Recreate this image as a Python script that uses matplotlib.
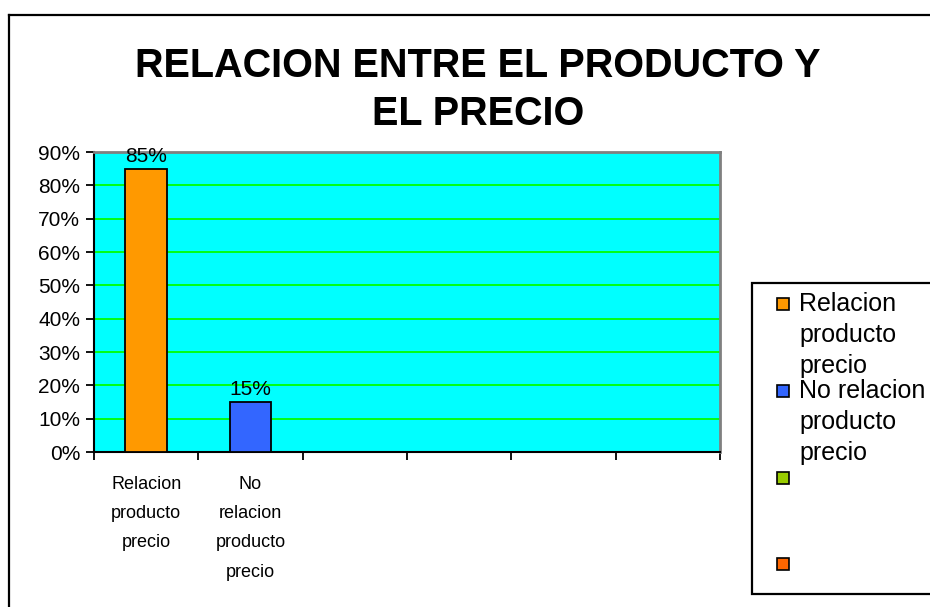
import matplotlib
matplotlib.use("Agg")
import matplotlib.pyplot as plt
from matplotlib.patches import Rectangle
import numpy as np

plt.rcParams['font.family'] = ['Liberation Sans', 'DejaVu Sans']

title = "RELACION ENTRE EL PRODUCTO Y\nEL PRECIO"
categories = ["Relacion\nproducto\nprecio", "No\nrelacion\nproducto\nprecio", "", "", "", ""]
values = [0.85, 0.15]
bar_colors = ["#FF9900", "#3366FF"]
value_labels = ["85%", "15%"]
y_ticks = [0.0, 0.1, 0.2, 0.3, 0.4, 0.5, 0.6, 0.7, 0.8, 0.9]
y_tick_labels = ["0%", "10%", "20%", "30%", "40%", "50%", "60%", "70%", "80%", "90%"]
legend_labels = ["Relacion\nproducto\nprecio", "No relacion\nproducto\nprecio", "", ""]
legend_colors = ["#FF9900", "#3366FF", "#99CC00", "#FF6600"]

W, H = 930, 607
fig = plt.figure(figsize=(W / 100, H / 100), dpi=100)
fig.patch.set_facecolor("white")

# outer chart border
fig.add_artist(plt.Line2D([9 / W, 9 / W], [0, 1 - 15 / H], color="black", lw=1.6, transform=fig.transFigure))
fig.add_artist(plt.Line2D([9 / W, 1], [1 - 15 / H, 1 - 15 / H], color="black", lw=1.6, transform=fig.transFigure))

L, R, T, B = 94, 720, 152, 452
ax = fig.add_axes([L / W, 1 - B / H, (R - L) / W, (B - T) / H])
ax.set_facecolor("#00FFFF")

n = len(categories)
x = np.arange(len(values))
ax.bar(x, values, width=0.4, color=bar_colors, edgecolor="black", linewidth=1.3, zorder=3)
for xi, v, lab in zip(x, values, value_labels):
    ax.annotate(lab, (xi, v), xytext=(0, 2), textcoords="offset points",
                ha="center", va="bottom", fontsize=15, color="black", zorder=4,
                annotation_clip=False)

ax.set_xlim(-0.5, n - 0.5)
ax.set_ylim(0, 0.9)
ax.set_yticks(y_ticks)
ax.set_yticklabels(y_tick_labels, fontsize=15)
ax.yaxis.grid(True, color="#00FF00", linewidth=1.3, zorder=1)
ax.set_axisbelow(True)

ax.set_xticks(np.arange(n + 1) - 0.5)
ax.set_xticklabels([])
ax.set_xticks(np.arange(n), minor=True)
ax.set_xticklabels(categories, minor=True, fontsize=13, linespacing=1.95)
ax.tick_params(axis="x", which="minor", length=0, pad=17)
ax.tick_params(axis="x", which="major", length=6, width=1.3, direction="out")
ax.tick_params(axis="y", length=6, width=1.3, direction="out", pad=4)

for side in ["left", "bottom"]:
    ax.spines[side].set_color("black")
    ax.spines[side].set_linewidth(1.5)
for side in ["top", "right"]:
    ax.spines[side].set_color("#808080")
    ax.spines[side].set_linewidth(2)

fig.text(478 / W, 1 - 47 / H, title, ha="center", va="top", fontsize=28.5,
         fontweight="bold", linespacing=1.33)

# legend box
lx0, ly0, ly1 = 752, 283, 594
fig.add_artist(Rectangle((lx0 / W, 1 - ly1 / H), (W - lx0 + 5) / W, (ly1 - ly0) / H,
                         transform=fig.transFigure, facecolor="white", edgecolor="black",
                         linewidth=1.6, clip_on=False))
entry_y = [298, 385, 472, 558]
for yy, lab, col in zip(entry_y, legend_labels, legend_colors):
    fig.add_artist(Rectangle((777 / W, 1 - (yy + 12) / H), 12 / W, 12 / H,
                             transform=fig.transFigure, facecolor=col, edgecolor="black",
                             linewidth=1.2))
    if lab:
        fig.text(799 / W, 1 - (yy - 6) / H, lab, ha="left", va="top", fontsize=18,
                 linespacing=1.38)

fig.savefig("out.png", dpi=100, facecolor="white")
